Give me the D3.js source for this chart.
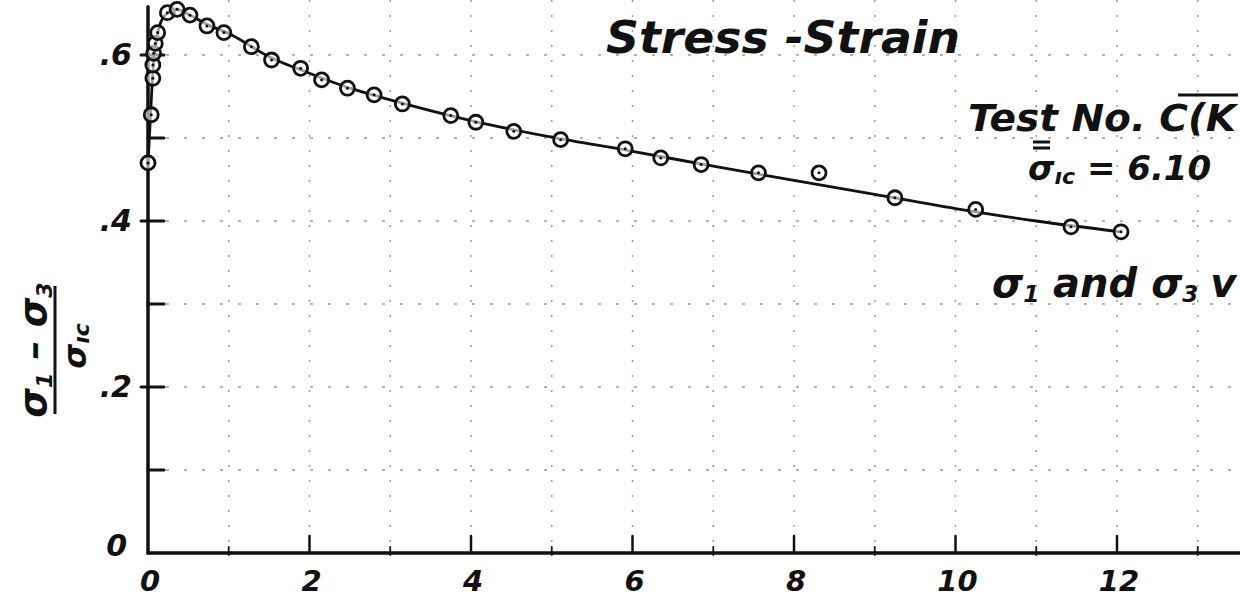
<!DOCTYPE html>
<html>
<head>
<meta charset="utf-8">
<script src="https://cdn.jsdelivr.net/npm/d3@7"></script>
<style>
  html, body { margin: 0; padding: 0; background: #fff; }
  svg { display: block; }
  text { font-family: "DejaVu Sans", sans-serif; font-style: oblique; font-weight: bold; fill: #111; }
</style>
</head>
<body>
<svg id="chart" width="1240" height="604"></svg>
<script>
// Axial strain (%) and normalised deviator stress of the test points
const strainPct = [0, 0.04, 0.06, 0.06, 0.07, 0.09, 0.12, 0.24, 0.36, 0.52, 0.73, 0.94,
  1.28, 1.53, 1.89, 2.15, 2.47, 2.80, 3.15, 3.75, 4.06, 4.53, 5.11, 5.91, 6.35, 6.85,
  7.56, 8.31, 9.25, 10.25, 11.43, 12.05];
const stressRatio = [0.470, 0.528, 0.572, 0.588, 0.602, 0.614, 0.627, 0.651, 0.655, 0.648, 0.635, 0.627,
  0.610, 0.594, 0.584, 0.570, 0.560, 0.552, 0.541, 0.527, 0.519, 0.508, 0.498, 0.487, 0.476, 0.468,
  0.458, 0.458, 0.428, 0.414, 0.393, 0.387];

// Faired curve drawn through the points
const curveStrain = [0, 0.03, 0.06, 0.1, 0.16, 0.25, 0.36, 0.5, 0.75, 1.0, 1.5, 2, 2.5, 3,
  4, 5, 6, 7, 8, 9, 10, 11, 12.05];
const curveRatio = [0.470, 0.525, 0.580, 0.615, 0.640, 0.651, 0.655, 0.649, 0.636, 0.626, 0.598, 0.578,
  0.560, 0.546, 0.521, 0.501, 0.484, 0.466, 0.449, 0.432, 0.415, 0.400, 0.387];

// Tick values and labels
const xMajorTicks = [0, 2, 4, 6, 8, 10, 12];
const xMajorLabels = ["0", "2", "4", "6", "8", "10", "12"];
const xMinorTicks = [1, 3, 5, 7, 9, 11, 13];
const yMajorTicks = [0, 0.2, 0.4, 0.6];
const yMajorLabels = ["0", ".2", ".4", ".6"];
const yMinorTicks = [0.1, 0.3, 0.5];

const W = 1240, H = 604;
const svg = d3.select("#chart");

const x = d3.scaleLinear().domain([0, 12]).range([148, 1117]);
const y = d3.scaleLinear().domain([0, 0.6]).range([553, 55]);

// Graph-paper grid (faint dotted)
const grid = svg.append("g");
const xGrid = d3.range(1, Math.floor(x.invert(W)) + 1);
const yGrid = d3.range(1, 7).map(d => d * 0.1);
grid.selectAll("line.gx").data(xGrid).join("line")
  .attr("x1", d => x(d)).attr("x2", d => x(d))
  .attr("y1", 0).attr("y2", y(0))
  .attr("stroke", "#9a9a9a").attr("stroke-width", 1.5)
  .attr("stroke-dasharray", "2,13");
grid.selectAll("line.gy").data(yGrid).join("line")
  .attr("x1", x(0)).attr("x2", W)
  .attr("y1", d => y(d)).attr("y2", d => y(d))
  .attr("stroke", "#9a9a9a").attr("stroke-width", 1.5)
  .attr("stroke-dasharray", "3,15");

// Axes
const ax = svg.append("g").attr("stroke", "#111").attr("stroke-linecap", "round");
ax.append("line").attr("x1", x(0)).attr("x2", W).attr("y1", y(0)).attr("y2", y(0)).attr("stroke-width", 3.5);
ax.append("line").attr("x1", x(0)).attr("x2", x(0)).attr("y1", y(0)).attr("y2", y(0.658)).attr("stroke-width", 3.5);

ax.selectAll("line.xt").data(xMajorTicks.slice(1)).join("line")
  .attr("x1", d => x(d)).attr("x2", d => x(d))
  .attr("y1", y(0)).attr("y2", y(0) - 17).attr("stroke-width", 2.5);
ax.selectAll("line.xm").data(xMinorTicks).join("line")
  .attr("x1", d => x(d)).attr("x2", d => x(d))
  .attr("y1", y(0) + 2).attr("y2", y(0) - 6).attr("stroke-width", 1.8);
ax.selectAll("line.yt").data(yMajorTicks.slice(1)).join("line")
  .attr("x1", x(0) - 7).attr("x2", x(0) + 16)
  .attr("y1", d => y(d)).attr("y2", d => y(d)).attr("stroke-width", 3);
ax.selectAll("line.ym").data(yMinorTicks).join("line")
  .attr("x1", x(0)).attr("x2", x(0) + 16)
  .attr("y1", d => y(d)).attr("y2", d => y(d)).attr("stroke-width", 3);

// Tick labels
svg.append("g").selectAll("text").data(xMajorTicks).join("text")
  .attr("x", d => x(d) + 2).attr("y", 591)
  .attr("text-anchor", "middle").attr("font-size", 29)
  .text((d, i) => xMajorLabels[i]);
svg.append("g").selectAll("text").data(yMajorTicks).join("text")
  .attr("x", (d, i) => i === 0 ? 127 : 132).attr("y", (d, i) => i === 0 ? y(d) + 3 : y(d) + 10)
  .attr("text-anchor", "end").attr("font-size", 30)
  .text((d, i) => yMajorLabels[i]);

// Y-axis label: (σ1 − σ3) / σ̄1c, written sideways
const yl = svg.append("g");
yl.append("text")
  .attr("transform", "translate(46,350) rotate(-90)")
  .attr("text-anchor", "middle").attr("font-size", 38)
  .call(t => {
    t.append("tspan").text("σ");
    t.append("tspan").attr("font-size", 22).attr("dy", 6).text("1");
    t.append("tspan").attr("dy", -6).text(" – σ");
    t.append("tspan").attr("font-size", 22).attr("dy", 6).text("3");
  });
yl.append("line").attr("x1", 55).attr("x2", 55).attr("y1", 286).attr("y2", 414)
  .attr("stroke", "#111").attr("stroke-width", 3);
yl.append("text")
  .attr("transform", "translate(86,346) rotate(-90)")
  .attr("text-anchor", "middle").attr("font-size", 32)
  .call(t => {
    t.append("tspan").text("σ");
    t.append("tspan").attr("font-size", 22).attr("dy", 3).text("ıc");
  });

// Curve and test points
const line = d3.line().x(d => x(d[0])).y(d => y(d[1])).curve(d3.curveMonotoneX);
svg.append("path")
  .datum(curveStrain.map((s, i) => [s, curveRatio[i]]))
  .attr("d", line).attr("fill", "none").attr("stroke", "#111").attr("stroke-width", 2.8);

const pts = svg.append("g").selectAll("g").data(strainPct.map((s, i) => [s, stressRatio[i]])).join("g")
  .attr("transform", d => `translate(${x(d[0])},${y(d[1])})`);
pts.append("circle").attr("r", 7).attr("fill", "#fff").attr("fill-opacity", 0.6)
  .attr("stroke", "#111").attr("stroke-width", 2.8);
pts.append("circle").attr("r", 1.5).attr("fill", "#111");

// Title and notes
svg.append("text").attr("x", 606).attr("y", 53).attr("font-size", 44)
  .attr("textLength", 354).attr("lengthAdjust", "spacingAndGlyphs")
  .text("Stress -Strain");

svg.append("text").attr("x", 968).attr("y", 131).attr("font-size", 37)
  .attr("textLength", 268).attr("lengthAdjust", "spacingAndGlyphs")
  .text("Test No.  C(K");
svg.append("line").attr("x1", 1178).attr("x2", 1238).attr("y1", 95).attr("y2", 95)
  .attr("stroke", "#111").attr("stroke-width", 3);

const sig = svg.append("text").attr("x", 1028).attr("y", 180).attr("font-size", 34);
sig.append("tspan").text("σ");
sig.append("tspan").attr("font-size", 22).attr("dy", 4).text("ıc");
sig.append("tspan").attr("dy", -4).text(" = 6.10");
svg.append("line").attr("x1", 1033).attr("x2", 1050).attr("y1", 142).attr("y2", 142)
  .attr("stroke", "#111").attr("stroke-width", 3);
svg.append("line").attr("x1", 1033).attr("x2", 1050).attr("y1", 148).attr("y2", 148)
  .attr("stroke", "#111").attr("stroke-width", 3);

const note = svg.append("text").attr("x", 992).attr("y", 297).attr("font-size", 40);
note.append("tspan").text("σ");
note.append("tspan").attr("font-size", 23).attr("dy", 5).text("1");
note.append("tspan").attr("dy", -5).text(" and σ");
note.append("tspan").attr("font-size", 23).attr("dy", 5).text("3");
note.append("tspan").attr("dy", -5).attr("dx", 12).text("v");
</script>
</body>
</html>
